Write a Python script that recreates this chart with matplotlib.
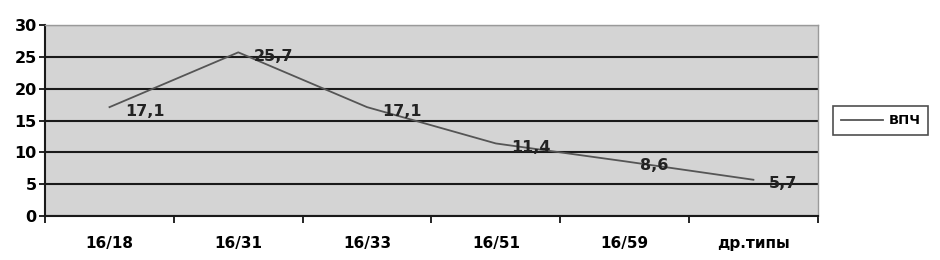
import matplotlib
matplotlib.use("Agg")
import matplotlib.pyplot as plt
import numpy as np

categories = ["16/18", "16/31", "16/33", "16/51", "16/59", "др.типы"]
values = [17.1, 25.7, 17.1, 11.4, 8.6, 5.7]
labels = ["17,1", "25,7", "17,1", "11,4", "8,6", "5,7"]
series_name = "ВПЧ"

plt.rcParams['font.family'] = ['DejaVu Sans']
fig = plt.figure(figsize=(9.4, 2.6), dpi=100)
ax = fig.add_axes([0.048, 0.169, 0.822, 0.735])
ax.set_facecolor('#d4d4d4')

x = np.arange(len(categories)) + 0.5
line, = ax.plot(x, values, color='#555555', lw=1.3, label=series_name, zorder=3)
for xi, v, t in zip(x, values, labels):
    ax.annotate(t, (xi, v), xytext=(11, -3), textcoords='offset points',
                ha='left', va='center', fontsize=11.5, fontweight='bold', color='#222222', zorder=4)

ax.set_xlim(0, len(categories))
ax.set_ylim(0, 30)
ax.set_yticks(range(0, 31, 5))
ax.yaxis.grid(True, color='#1a1a1a', lw=1.5)
ax.set_axisbelow(True)
ax.set_xticks(np.arange(len(categories) + 1))
ax.set_xticklabels([])
ax.set_xticks(x, minor=True)
ax.set_xticklabels(categories, minor=True, fontsize=11, fontweight='bold')
ax.tick_params(axis='x', which='minor', length=0, pad=14)
ax.tick_params(axis='x', which='major', length=5, width=1.2, direction='out')
ax.tick_params(axis='y', length=4, width=1.2, labelsize=11.5, pad=2)
for lbl in ax.get_yticklabels():
    lbl.set_fontweight('bold')
for s in ['left', 'bottom']:
    ax.spines[s].set_color('#1a1a1a')
    ax.spines[s].set_linewidth(1.5)
for s in ['top', 'right']:
    ax.spines[s].set_color('#9a9a9a')
    ax.spines[s].set_linewidth(1.0)

leg = fig.legend(handles=[line], loc='center left', bbox_to_anchor=(0.886, 0.535),
                 frameon=True, fancybox=False, edgecolor='#222222',
                 prop={'weight': 'bold', 'size': 9.5}, handlelength=3.2,
                 handletextpad=0.4, borderpad=0.6, borderaxespad=0)
leg.get_frame().set_linewidth(1.2)

fig.savefig("out.png", dpi=100)
